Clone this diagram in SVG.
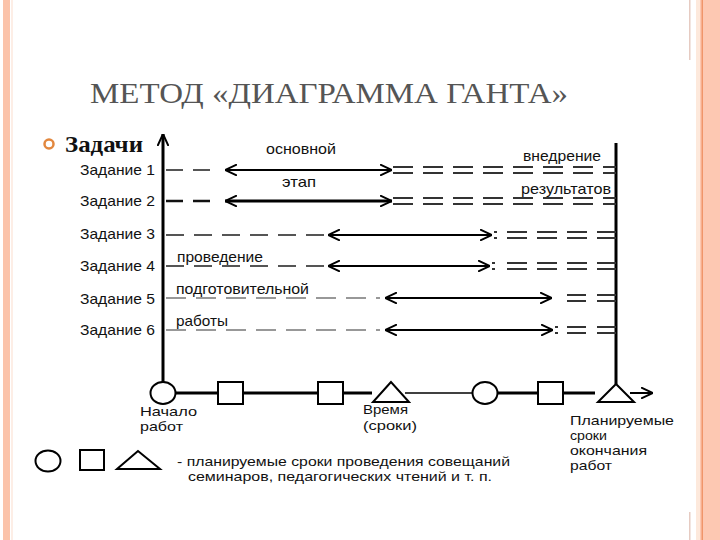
<svg xmlns="http://www.w3.org/2000/svg" width="720" height="540" viewBox="0 0 720 540">
<defs>
<style>
.t{font-family:"Liberation Sans",Arial,sans-serif;font-size:15px;fill:#111}
.lbl{font-family:"Liberation Sans",Arial,sans-serif;font-size:15px;fill:#111}
.stk{font-family:"Liberation Sans",Arial,sans-serif;font-size:13.2px;fill:#111}
.ser{font-family:"Liberation Serif","Times New Roman",serif}
.ax{stroke:#000;stroke-width:3;fill:none}
.arr{stroke:#000;stroke-width:2;fill:none;marker-start:url(#ch);marker-end:url(#ch)}
.arr2{stroke:#000;stroke-width:3;fill:none;marker-start:url(#ch);marker-end:url(#ch)}
.dsh{stroke:#555;stroke-width:2;stroke-dasharray:17 10;fill:none}
.dd{stroke:#333;stroke-width:2;stroke-dasharray:20 10;fill:none}
.shp{fill:#fff;stroke:#000;stroke-width:2}
</style>
<marker id="ch" viewBox="0 0 12 12" refX="12" refY="6" markerWidth="12" markerHeight="12" markerUnits="userSpaceOnUse" orient="auto-start-reverse">
<path d="M0,0.5 L12,6 L0,11.5" fill="none" stroke="#000" stroke-width="2"/>
</marker>
</defs>
<rect width="720" height="540" fill="#fff"/>
<g id="frame">
<rect x="3" y="0" width="7" height="540" fill="#fbc3aa"/>
<rect x="11" y="0" width="2" height="540" fill="#fdeee6"/>
<rect x="696" y="0" width="24" height="540" fill="#fdc8b2"/>
<rect x="696" y="0" width="4" height="540" fill="#fde9dc"/>
<rect x="701.5" y="0" width="1.5" height="540" fill="#f0956a"/>
<rect x="689" y="0" width="1.5" height="60" fill="#e6cbc2"/>
<rect x="689" y="512" width="1.5" height="28" fill="#e6cbc2"/>
</g>
<g id="title">
<text class="ser" x="90" y="103" font-size="29" fill="#555" textLength="478" lengthAdjust="spacingAndGlyphs">МЕТОД «ДИАГРАММА ГАНТА»</text>
</g>
<g id="bullet">
<circle cx="49" cy="144" r="4.5" fill="none" stroke="#e2873e" stroke-width="2.5"/>
<text class="ser" x="65" y="152" font-size="23" font-weight="bold" fill="#111" textLength="78" lengthAdjust="spacingAndGlyphs">Задачи</text>
</g>
<g id="connectors">
<line class="ax" x1="163" y1="382" x2="163" y2="134" marker-end="url(#ch)"/>
<line class="ax" x1="616" y1="143" x2="616" y2="384"/>
<!-- row 1 -->
<line class="dsh" x1="166" y1="170" x2="212" y2="170" stroke="#888"/>
<line class="arr" x1="225" y1="170" x2="392" y2="170"/>
<line class="dd" x1="393" y1="167" x2="616" y2="167"/>
<line class="dd" x1="393" y1="173" x2="616" y2="173"/>
<!-- row 2 -->
<line class="dsh" x1="166" y1="201" x2="212" y2="201" style="stroke:#111;stroke-width:2.5"/>
<line class="arr2" x1="225" y1="201" x2="392" y2="201"/>
<line class="dd" x1="393" y1="198" x2="616" y2="198"/>
<line class="dd" x1="393" y1="204" x2="616" y2="204"/>
<!-- row 3 -->
<line class="dsh" x1="166" y1="235" x2="324" y2="235" style="stroke-dasharray:18 10"/>
<line class="arr" x1="328" y1="235" x2="492" y2="235"/>
<line class="dd" x1="494" y1="232" x2="616" y2="232" style="stroke-dasharray:3 10 20 10 20 10 20 10 20 10"/>
<line class="dd" x1="494" y1="238" x2="616" y2="238" style="stroke-dasharray:3 10 20 10 20 10 20 10 20 10"/>
<!-- row 4 -->
<line class="dsh" x1="166" y1="266" x2="324" y2="266" style="stroke-dasharray:18 10"/>
<line class="arr" x1="328" y1="266" x2="490" y2="266"/>
<line class="dd" x1="492" y1="263" x2="616" y2="263" style="stroke-dasharray:3 12 20 10 20 10 20 10 20 10"/>
<line class="dd" x1="492" y1="269" x2="616" y2="269" style="stroke-dasharray:3 12 20 10 20 10 20 10 20 10"/>
<!-- row 5 -->
<line class="dsh" x1="166" y1="298" x2="380" y2="298" style="stroke:#777;stroke-width:1.5;stroke-dasharray:20 10"/>
<line class="arr" x1="385" y1="298" x2="552" y2="298"/>
<line class="dd" x1="567" y1="295" x2="616" y2="295" style="stroke-dasharray:19 11 20 10"/>
<line class="dd" x1="567" y1="301" x2="616" y2="301" style="stroke-dasharray:19 11 20 10"/>
<!-- row 6 -->
<line class="dsh" x1="166" y1="330" x2="380" y2="330" style="stroke:#777;stroke-width:1.5;stroke-dasharray:20 10"/>
<line class="arr" x1="385" y1="330" x2="553" y2="330"/>
<line class="dd" x1="555" y1="327" x2="616" y2="327" style="stroke-dasharray:3 9 19 11 20 10"/>
<line class="dd" x1="555" y1="333" x2="616" y2="333" style="stroke-dasharray:3 9 19 11 20 10"/>
<!-- time line -->
<line x1="175" y1="393" x2="372" y2="393" stroke="#000" stroke-width="3"/>
<line x1="405" y1="393" x2="472" y2="393" stroke="#000" stroke-width="1.5"/>
<line x1="498" y1="393" x2="595" y2="393" stroke="#000" stroke-width="3"/>
<line x1="630" y1="393" x2="653" y2="393" stroke="#000" stroke-width="2" marker-end="url(#ch)"/>
</g>
<g id="tasks">
<text class="t" x="80" y="175" textLength="75" lengthAdjust="spacingAndGlyphs">Задание 1</text>
<text class="t" x="80" y="206" textLength="75" lengthAdjust="spacingAndGlyphs">Задание 2</text>
<text class="t" x="80" y="239" textLength="75" lengthAdjust="spacingAndGlyphs">Задание 3</text>
<text class="t" x="80" y="271" textLength="75" lengthAdjust="spacingAndGlyphs">Задание 4</text>
<text class="t" x="80" y="304" textLength="75" lengthAdjust="spacingAndGlyphs">Задание 5</text>
<text class="t" x="80" y="335" textLength="75" lengthAdjust="spacingAndGlyphs">Задание 6</text>
</g>
<g id="labels">
<text class="lbl" x="266" y="154" textLength="70" lengthAdjust="spacingAndGlyphs">основной</text>
<text class="lbl" x="282" y="187" textLength="34" lengthAdjust="spacingAndGlyphs">этап</text>
<text class="lbl" x="177" y="262" textLength="86" lengthAdjust="spacingAndGlyphs">проведение</text>
<text class="lbl" x="176" y="294" textLength="133" lengthAdjust="spacingAndGlyphs">подготовительной</text>
<text class="lbl" x="176" y="326" textLength="52" lengthAdjust="spacingAndGlyphs">работы</text>
<text class="lbl" x="523" y="161" textLength="78" lengthAdjust="spacingAndGlyphs">внедрение</text>
<text class="lbl" x="521" y="194" textLength="90" lengthAdjust="spacingAndGlyphs">результатов</text>
</g>
<g id="start">
<ellipse class="shp" cx="163" cy="393" rx="12.5" ry="11"/>
<text class="stk" x="140" y="416" textLength="57" lengthAdjust="spacingAndGlyphs">Начало</text>
<text class="stk" x="140" y="431" textLength="43" lengthAdjust="spacingAndGlyphs">работ</text>
</g>
<g id="sq1"><rect class="shp" x="218" y="382" width="25" height="22"/></g>
<g id="sq2"><rect class="shp" x="318" y="382" width="25" height="22"/></g>
<g id="time">
<polygon class="shp" points="391,382 373,402 409,402"/>
<text class="stk" x="363" y="414" textLength="45" lengthAdjust="spacingAndGlyphs">Время</text>
<text class="stk" x="363" y="430" textLength="54" lengthAdjust="spacingAndGlyphs">(сроки)</text>
</g>
<g id="c2"><ellipse class="shp" cx="485" cy="393" rx="12.5" ry="11"/></g>
<g id="sq3"><rect class="shp" x="538" y="382" width="25" height="22"/></g>
<g id="end">
<polygon class="shp" points="616,384 598,402 634,402" style="fill:none"/>
<text class="stk" x="570" y="425" textLength="104" lengthAdjust="spacingAndGlyphs">Планируемые</text>
<text class="stk" x="570" y="440" textLength="37" lengthAdjust="spacingAndGlyphs">сроки</text>
<text class="stk" x="570" y="455" textLength="77" lengthAdjust="spacingAndGlyphs">окончания</text>
<text class="stk" x="570" y="470" textLength="42" lengthAdjust="spacingAndGlyphs">работ</text>
</g>
<g id="legend">
<ellipse class="shp" cx="48" cy="461" rx="12.5" ry="10.5"/>
<rect class="shp" x="80" y="450" width="24" height="20"/>
<polygon class="shp" points="138,451 117,469 160,469"/>
<text class="stk" x="177" y="466" textLength="333" lengthAdjust="spacingAndGlyphs">- планируемые сроки проведения совещаний</text>
<text class="stk" x="188" y="481" textLength="304" lengthAdjust="spacingAndGlyphs">семинаров, педагогических чтений и т. п.</text>
</g>
</svg>
